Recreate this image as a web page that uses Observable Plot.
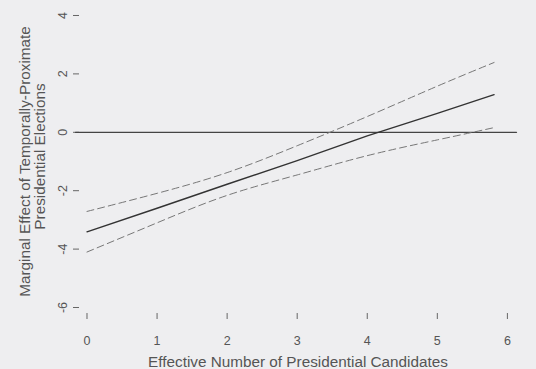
<!DOCTYPE html>
<html>
<head>
<meta charset="utf-8">
<script src="https://cdn.jsdelivr.net/npm/d3@7"></script>
<script src="https://cdn.jsdelivr.net/npm/@observablehq/plot@0.6"></script>
<style>
  html, body { margin: 0; padding: 0; background: #eeeef0; }
</style>
</head>
<body>
<div id="chart"></div>
<script>
// Data
const candidates = [0, 1, 2, 3, 4, 5, 5.81];
const effect = [-3.41, -2.60, -1.78, -0.97, -0.12, 0.65, 1.29];
const upperCI = [-2.71, -2.09, -1.38, -0.46, 0.54, 1.58, 2.39];
const lowerCI = [-4.10, -3.10, -2.16, -1.46, -0.80, -0.26, 0.16];
const zeroLineX = [-0.164, 6.13];
const zeroLineY = [0, 0];
const xTicks = [0, 1, 2, 3, 4, 5, 6];
const yTicks = [-6, -4, -2, 0, 2, 4];
const xTitle = "Effective Number of Presidential Candidates";
const yTitle1 = "Marginal Effect of Temporally-Proximate";
const yTitle2 = "Presidential Elections";

const rows = candidates.map((x, i) => ({x, effect: effect[i], upper: upperCI[i], lower: lowerCI[i]}));
const zeroRows = zeroLineX.map((x, i) => ({x, y: zeroLineY[i]}));

const font = "'Liberation Sans', Arial, Helvetica, sans-serif";

const chart = Plot.plot({
  width: 536,
  height: 369,
  marginLeft: 79,
  marginRight: 20,
  marginTop: 9,
  marginBottom: 56,
  style: {background: "#eeeef0", color: "#555", fontFamily: font, fontSize: "12.5px"},
  x: {domain: [-0.107, 6.13]},
  y: {domain: [-6.205, 4.205]},
  marks: [
    Plot.axisX({ticks: xTicks, tickSize: 6, tickPadding: 17, tickFormat: d => String(d), fontSize: 12.5, label: null, stroke: "#666"}),
    Plot.axisY({ticks: yTicks, tickSize: 6, tickFormat: () => "", label: null, stroke: "#666"}),
    Plot.text(yTicks, {y: d => d, text: d => String(d), frameAnchor: "left", dx: -16.5, rotate: -90, textAnchor: "middle", lineAnchor: "middle", fontSize: 12.5, fill: "#555"}),
    Plot.line(zeroRows, {x: "x", y: "y", stroke: "#444", strokeWidth: 1.3}),
    Plot.line(rows, {x: "x", y: "upper", stroke: "#777", strokeWidth: 1, strokeDasharray: "7,4", curve: "natural"}),
    Plot.line(rows, {x: "x", y: "lower", stroke: "#777", strokeWidth: 1, strokeDasharray: "7,4", curve: "natural"}),
    Plot.line(rows, {x: "x", y: "effect", stroke: "#333", strokeWidth: 1.4}),
    Plot.text([xTitle], {text: d => d, frameAnchor: "bottom", dy: 48.5, lineAnchor: "middle", textAnchor: "middle", fontSize: 15.3, fill: "#555"}),
    Plot.text([yTitle1], {text: d => d, frameAnchor: "left", dx: -54, dy: 0, rotate: -90, lineAnchor: "middle", textAnchor: "middle", fontSize: 15.3, fill: "#555"}),
    Plot.text([yTitle2], {text: d => d, frameAnchor: "left", dx: -39, dy: -5, rotate: -90, lineAnchor: "middle", textAnchor: "middle", fontSize: 15.3, fill: "#555"})
  ]
});
document.getElementById("chart").appendChild(chart);
</script>
</body>
</html>
